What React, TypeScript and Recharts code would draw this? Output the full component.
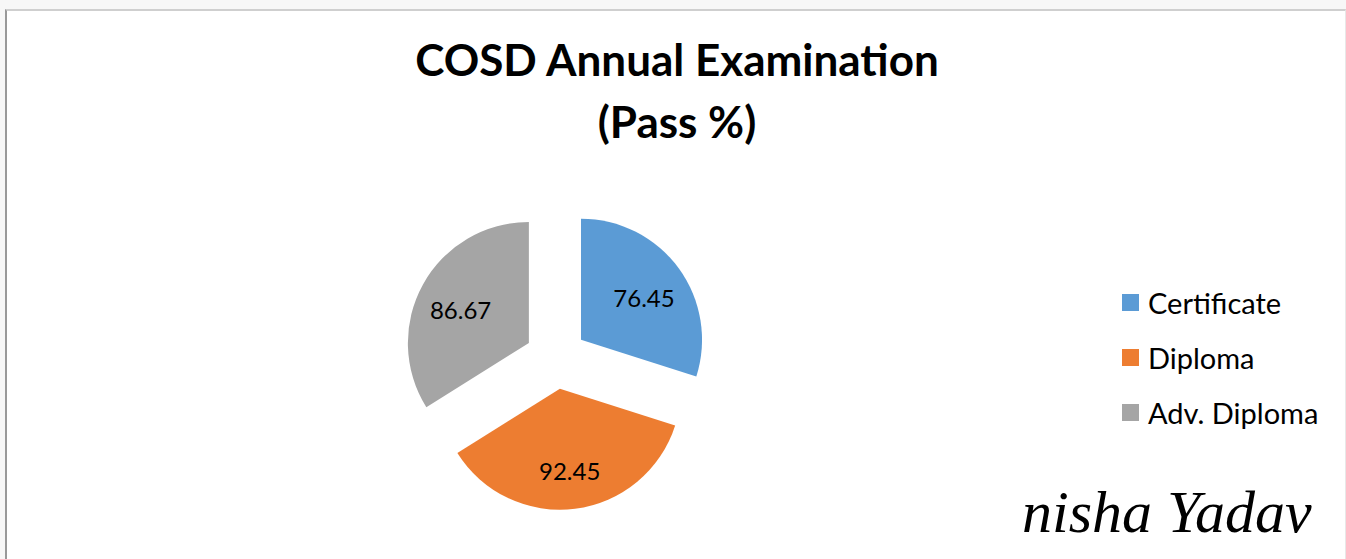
import React from "react";
import { PieChart, Pie, Cell, Legend } from "recharts";

const categories = ["Certificate", "Diploma", "Adv. Diploma"];
const passPercent = [76.45, 92.45, 86.67];
const sliceColors = ["#5B9BD5", "#ED7D31", "#A5A5A5"];

const WIDTH = 1346;
const HEIGHT = 559;
const CX = 556;
const CY = 358;
const RADIUS = 121;
const EXPLODE = 31;
const LABEL_R = 78;
const FONT = "Lato, 'Open Sans', sans-serif";

const data = categories.map((name, i) => ({ name, value: passPercent[i] }));
const total = passPercent.reduce((a, b) => a + b, 0);

// mid angle of each slice in degrees, clockwise from 12 o'clock
const midAngles = passPercent.map((v, i) => {
  const before = passPercent.slice(0, i).reduce((a, b) => a + b, 0);
  return ((before + v / 2) / total) * 360;
});

const renderLabel = (only: number) => (props: any) => {
  if (props.index !== only) return null;
  const rad = (-props.midAngle * Math.PI) / 180;
  const x = props.cx + LABEL_R * Math.cos(rad);
  const y = props.cy + LABEL_R * Math.sin(rad);
  return (
    <text
      x={x}
      y={y + 4}
      textAnchor="middle"
      dominantBaseline="central"
      fill="#000"
      fontSize={24}
      fontFamily={FONT}
    >
      {passPercent[props.index].toFixed(2)}
    </text>
  );
};

const LegendBox = () => (
  <div style={{ fontFamily: FONT, fontSize: 29, color: "#000" }}>
    {categories.map((name, i) => (
      <div
        key={name}
        style={{ display: "flex", alignItems: "center", height: 55 }}
      >
        <span
          style={{
            width: 17,
            height: 17,
            background: sliceColors[i],
            marginRight: 9,
            display: "inline-block",
          }}
        />
        <span>{name}</span>
      </div>
    ))}
  </div>
);

export default function App() {
  return (
    <div
      style={{
        position: "fixed",
        left: 0,
        top: 0,
        width: WIDTH,
        height: HEIGHT,
        background: "#f7f7f7",
        overflow: "hidden",
      }}
    >
      <div
        style={{
          position: "absolute",
          left: 5,
          top: 9,
          width: 1338,
          height: 600,
          background: "#fff",
          borderTop: "2px solid #cfcfcf",
          borderLeft: "2px solid #999",
          borderRight: "1px solid #e8e8e8",
        }}
      />
      <div
        style={{
          position: "absolute",
          left: 0,
          top: 28,
          width: 1354,
          textAlign: "center",
          fontFamily: FONT,
          fontWeight: 700,
          fontSize: 44,
          lineHeight: "62px",
          color: "#000",
        }}
      >
        COSD Annual Examination
        <br />
        (Pass %)
      </div>
      <div style={{ position: "absolute", left: 0, top: 0 }}>
        <PieChart
          width={WIDTH}
          height={HEIGHT}
          margin={{ top: 0, right: 0, bottom: 0, left: 0 }}
        >
          {passPercent.map((_, i) => {
            const th = (midAngles[i] * Math.PI) / 180;
            return (
              <Pie
                key={categories[i]}
                data={data}
                dataKey="value"
                nameKey="name"
                cx={CX + EXPLODE * Math.sin(th)}
                cy={CY - EXPLODE * Math.cos(th)}
                outerRadius={RADIUS}
                startAngle={90}
                endAngle={-270}
                stroke="none"
                label={renderLabel(i)}
                labelLine={false}
                isAnimationActive={false}
              >
                {data.map((d, j) => (
                  <Cell
                    key={d.name}
                    fill={j === i ? sliceColors[j] : "transparent"}
                  />
                ))}
              </Pie>
            );
          })}
          <Legend
            layout="vertical"
            align="right"
            verticalAlign="top"
            wrapperStyle={{ left: 1122, top: 275, width: 224 }}
            content={() => <LegendBox />}
          />
        </PieChart>
      </div>
      <div
        style={{
          position: "absolute",
          left: 1022,
          top: 478,
          fontFamily: "'Liberation Serif', serif",
          fontStyle: "italic",
          fontSize: 60,
          color: "#000",
          whiteSpace: "nowrap",
        }}
      >
        nisha Yadav
      </div>
    </div>
  );
}
